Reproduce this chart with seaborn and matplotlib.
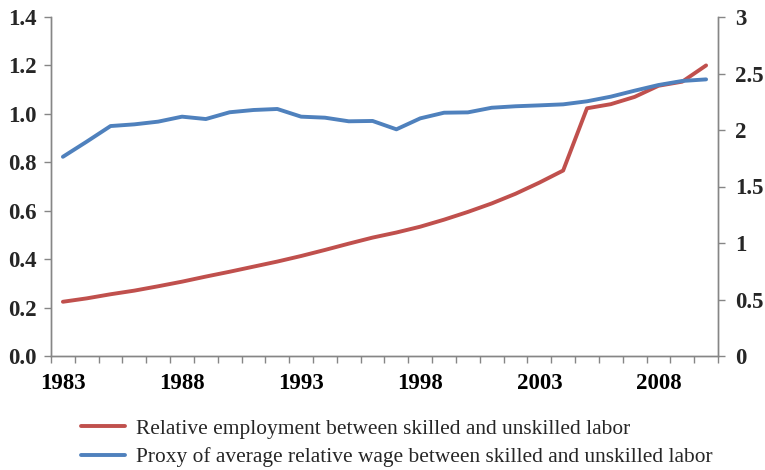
import numpy as np
import pandas as pd
import matplotlib
matplotlib.use("Agg")
import matplotlib.pyplot as plt
import seaborn as sns

# ------------------------
# data
# ------------------------
years = list(range(1983, 2011))
employment = [0.224, 0.238, 0.255, 0.270, 0.288, 0.307, 0.328, 0.348, 0.369, 0.390,
              0.413, 0.438, 0.464, 0.489, 0.510, 0.534, 0.563, 0.595, 0.630, 0.670,
              0.716, 0.766, 1.023, 1.040, 1.070, 1.116, 1.133, 1.200]
wage = [1.763, 1.897, 2.035, 2.050, 2.074, 2.118, 2.097, 2.157, 2.177, 2.186,
        2.118, 2.109, 2.077, 2.080, 2.006, 2.103, 2.153, 2.156, 2.197, 2.210,
        2.218, 2.227, 2.254, 2.295, 2.348, 2.398, 2.434, 2.448]
label_years = [1983, 1988, 1993, 1998, 2003, 2008]
left_ticks = [0.0, 0.2, 0.4, 0.6, 0.8, 1.0, 1.2, 1.4]
right_ticks = [0, 0.5, 1, 1.5, 2, 2.5, 3]

emp_label = "Relative employment between skilled and unskilled labor"
wage_label = "Proxy of average relative wage between skilled and unskilled labor"

df = pd.DataFrame({"year": years, "employment": employment, "wage": wage})

sns.set_theme(style="ticks")
plt.rcParams["font.family"] = ["Liberation Serif", "DejaVu Serif"]

RED = "#C0504D"
BLUE = "#4F81BD"
GREY = "#868686"
TICK_FS = 16.5

fig = plt.figure(figsize=(7.65, 4.7), dpi=100)
ax = fig.add_axes([51 / 765, 114 / 470, 667 / 765, 339 / 470])
ax2 = ax.twinx()

sns.lineplot(data=df, x="year", y="employment", ax=ax, color=RED, linewidth=2.8,
             label=emp_label, legend=False)
sns.lineplot(data=df, x="year", y="wage", ax=ax2, color=BLUE, linewidth=2.8,
             label=wage_label, legend=False)

ax.set_xlim(years[0] - 0.5, years[-1] + 0.5)
ax.set_ylim(0, 1.4)
ax2.set_ylim(0, 3)

# category-style axis: labels at centres, tick marks at boundaries
ax.set_xticks(label_years)
ax.set_xticklabels([str(y) for y in label_years], fontsize=TICK_FS, fontweight="bold")
ax.set_xticks(np.arange(years[0] - 0.5, years[-1] + 1), minor=True)
ax.tick_params(axis="x", which="major", length=0, pad=12, colors="black")
ax.tick_params(axis="x", which="minor", length=5, width=1, color=GREY, direction="out", bottom=True)

ax.set_yticks(left_ticks)
ax.set_yticklabels([f"{v:.1f}" for v in left_ticks], fontsize=TICK_FS, fontweight="bold")
ax.tick_params(axis="y", which="major", length=5, width=1, color=GREY, direction="out", left=True, pad=5)
ax.tick_params(axis="y", which="minor", left=False)

ax2.set_yticks(right_ticks)
ax2.set_yticklabels([f"{v:g}" for v in right_ticks], fontsize=TICK_FS, fontweight="bold")
ax2.tick_params(axis="y", which="major", length=5, width=1, color=GREY, direction="out", right=True, pad=7)
ax2.tick_params(axis="y", which="minor", right=False)

ax.set_xlabel("")
ax.set_ylabel("")
ax2.set_ylabel("")

for a in (ax, ax2):
    a.spines["top"].set_visible(False)
    for s in ("left", "right", "bottom"):
        a.spines[s].set_color(GREY)
        a.spines[s].set_linewidth(1)
    a.grid(False)

handles = ax.get_lines()[:1] + ax2.get_lines()[:1]
fig.legend(handles, [emp_label, wage_label], loc="upper left",
           bbox_to_anchor=(72 / 765, 1 - 410 / 470), frameon=False,
           prop={"family": "Liberation Serif", "size": 15.4},
           handlelength=2.1, handletextpad=0.5, labelspacing=0.4, borderaxespad=0)

fig.savefig("out.png", dpi=100)
